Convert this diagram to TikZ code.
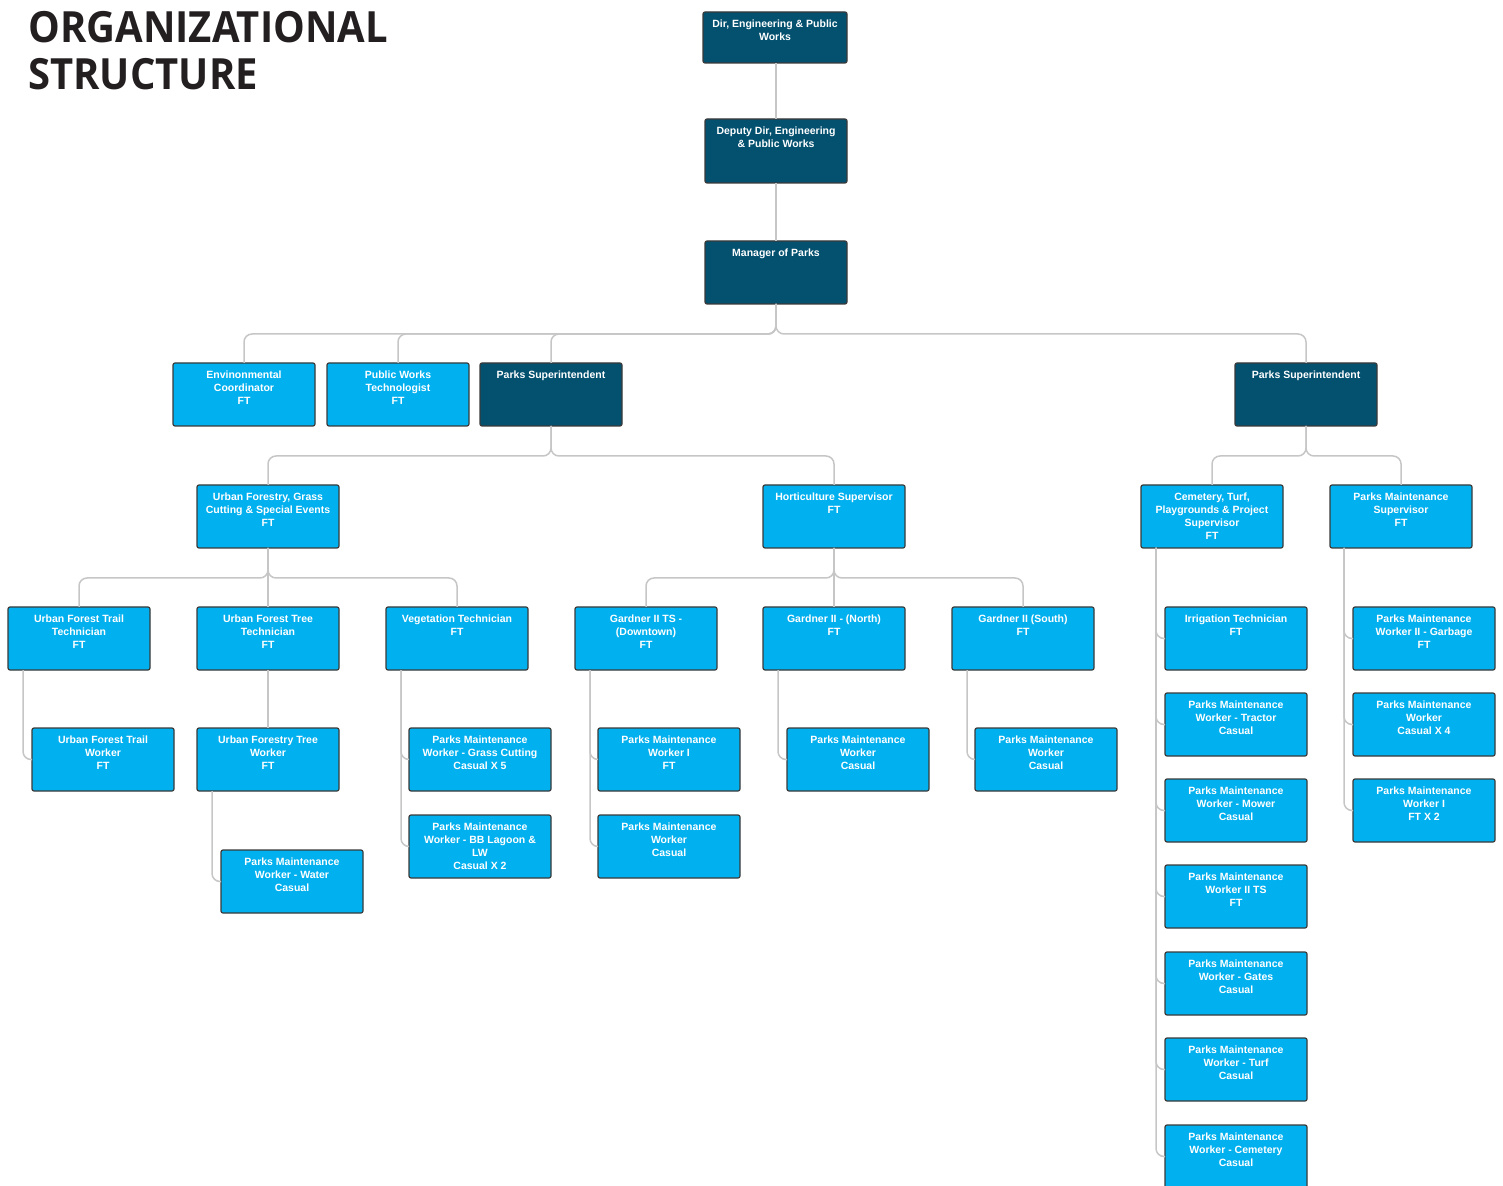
\documentclass[tikz,border=0pt]{standalone}
\usepackage{fontspec}
\setmainfont{Liberation Sans}
\newfontfamily\headfont[FakeStretch=0.93]{Open Sans}
\definecolor{boxdark}{HTML}{03506F}
\definecolor{boxlight}{HTML}{00B0EF}
\definecolor{boxedge}{HTML}{3A3A3A}
\definecolor{wire}{HTML}{C6C6C6}
\definecolor{headink}{HTML}{231F20}

% one box of the chart: #1 name, #2 style, #3 left, #4 top, #5 height (px), #6 text
\newcommand\orgbox[6]{%
  \node[#2, anchor=north west, minimum height=#5*0.5pt] (#1) at (#3,#4) {};
  \node[boxtext, anchor=north] at ([yshift=-3.6pt]#1.north) {\rule{0pt}{0.75em}#6};
}

\begin{document}
\begin{tikzpicture}[x=0.5pt, y=-0.5pt,
  unit/.style={draw=boxedge, line width=0.6pt, rounded corners=1pt,
    minimum width=71pt, inner sep=0pt, outer sep=0pt},
  dark/.style={unit, fill=boxdark},
  light/.style={unit, fill=boxlight},
  boxtext/.style={inner sep=0pt, align=center, text=white,
    font=\bfseries\fontsize{5.25pt}{6.5pt}\selectfont},
  conn/.style={draw=wire, line width=0.75pt, rounded corners=4pt},
]
\useasboundingbox (0,0) rectangle (1503,1186);
\clip (0,0) rectangle (1503,1186);

% heading
\node[anchor=north west, inner sep=0pt, align=left, text=headink,
  font=\headfont\bfseries\fontsize{21.5pt}{23.5pt}\selectfont] (title) at (28,11)
  {ORGANIZATIONAL\\STRUCTURE};

% management chain
\orgbox{dir}{dark, minimum width=72pt}{703}{12}{51}{Dir, Engineering \& Public\\Works}
\orgbox{dep}{dark}{705}{119}{64}{Deputy Dir, Engineering\\\& Public Works}
\orgbox{mgr}{dark}{705}{241}{63}{Manager of Parks}

% reports to the manager
\orgbox{env}{light}{173}{363}{63}{Envinonmental\\Coordinator\\FT}
\orgbox{pwt}{light}{327}{363}{63}{Public Works\\Technologist\\FT}
\orgbox{psa}{dark}{480}{363}{63}{Parks Superintendent}
\orgbox{psb}{dark}{1235}{363}{63}{Parks Superintendent}

% supervisors
\orgbox{uf}{light}{197}{485}{63}{Urban Forestry, Grass\\Cutting \& Special Events\\FT}
\orgbox{hs}{light}{763}{485}{63}{Horticulture Supervisor\\FT}
\orgbox{cem}{light}{1141}{485}{63}{Cemetery, Turf,\\Playgrounds \& Project\\Supervisor\\FT}
\orgbox{pms}{light}{1330}{485}{63}{Parks Maintenance\\Supervisor\\FT}

% technicians and gardeners
\orgbox{uftt}{light}{8}{607}{63}{Urban Forest Trail\\Technician\\FT}
\orgbox{uftech}{light}{197}{607}{63}{Urban Forest Tree\\Technician\\FT}
\orgbox{veg}{light}{386}{607}{63}{Vegetation Technician\\FT}
\orgbox{gdt}{light}{575}{607}{63}{Gardner II TS -\\(Downtown)\\FT}
\orgbox{gno}{light}{763}{607}{63}{Gardner II - (North)\\FT}
\orgbox{gso}{light}{952}{607}{63}{Gardner II (South)\\FT}

% workers
\orgbox{uftw}{light}{32}{728}{63}{Urban Forest Trail\\Worker\\FT}
\orgbox{ufw}{light}{197}{728}{63}{Urban Forestry Tree\\Worker\\FT}
\orgbox{water}{light}{221}{850}{63}{Parks Maintenance\\Worker - Water\\Casual}
\orgbox{grass}{light}{409}{728}{63}{Parks Maintenance\\Worker - Grass Cutting\\Casual X 5}
\orgbox{lagoon}{light}{409}{815}{63}{Parks Maintenance\\Worker - BB Lagoon \&\\LW\\Casual X 2}
\orgbox{dtone}{light}{598}{728}{63}{Parks Maintenance\\Worker I\\FT}
\orgbox{dtcas}{light}{598}{815}{63}{Parks Maintenance\\Worker\\Casual}
\orgbox{nocas}{light}{787}{728}{63}{Parks Maintenance\\Worker\\Casual}
\orgbox{socas}{light}{975}{728}{63}{Parks Maintenance\\Worker\\Casual}

\orgbox{irr}{light}{1165}{607}{63}{Irrigation Technician\\FT}
\orgbox{trac}{light}{1165}{693}{63}{Parks Maintenance\\Worker - Tractor\\Casual}
\orgbox{mow}{light}{1165}{779}{63}{Parks Maintenance\\Worker - Mower\\Casual}
\orgbox{wts}{light}{1165}{865}{63}{Parks Maintenance\\Worker II TS\\FT}
\orgbox{gates}{light}{1165}{952}{63}{Parks Maintenance\\Worker - Gates\\Casual}
\orgbox{turf}{light}{1165}{1038}{63}{Parks Maintenance\\Worker - Turf\\Casual}
\orgbox{cemw}{light}{1165}{1125}{63}{Parks Maintenance\\Worker - Cemetery\\Casual}

\orgbox{garb}{light}{1353}{607}{63}{Parks Maintenance\\Worker II - Garbage\\FT}
\orgbox{four}{light}{1353}{693}{63}{Parks Maintenance\\Worker\\Casual X 4}
\orgbox{two}{light}{1353}{779}{63}{Parks Maintenance\\Worker I\\FT X 2}

% connectors: buses drop 30px below a parent, side rails run 15px in from its left edge
\draw[conn] (dep.north) -- (dep.north |- dir.south);
\draw[conn] (dep.south) -- (mgr.north);
\foreach \c in {env,pwt,psa,psb}
  \draw[conn] (mgr.south) -- ++(0,30) -| (\c.north);
\foreach \c in {uf,hs}
  \draw[conn] (psa.south) -- ++(0,30) -| (\c.north);
\foreach \c in {cem,pms}
  \draw[conn] (psb.south) -- ++(0,30) -| (\c.north);
\foreach \c in {uftt,veg}
  \draw[conn] (uf.south) -- ++(0,30) -| (\c.north);
\draw[conn] (uf.south) -- (uftech.north);
\foreach \c in {gdt,gso}
  \draw[conn] (hs.south) -- ++(0,30) -| (\c.north);
\draw[conn] (hs.south) -- (gno.north);
\draw[conn] (uftech.south) -- (ufw.north);

\draw[conn] ([xshift=7.5pt]uftt.south west) |- (uftw.west);
\draw[conn] ([xshift=7.5pt]ufw.south west) |- (water.west);
\foreach \c in {grass,lagoon}
  \draw[conn] ([xshift=7.5pt]veg.south west) |- (\c.west);
\foreach \c in {dtone,dtcas}
  \draw[conn] ([xshift=7.5pt]gdt.south west) |- (\c.west);
\draw[conn] ([xshift=7.5pt]gno.south west) |- (nocas.west);
\draw[conn] ([xshift=7.5pt]gso.south west) |- (socas.west);
\foreach \c in {irr,trac,mow,wts,gates,turf,cemw}
  \draw[conn] ([xshift=7.5pt]cem.south west) |- (\c.west);
\foreach \c in {garb,four,two}
  \draw[conn] ([xshift=7pt]pms.south west) |- (\c.west);
\end{tikzpicture}
\end{document}
